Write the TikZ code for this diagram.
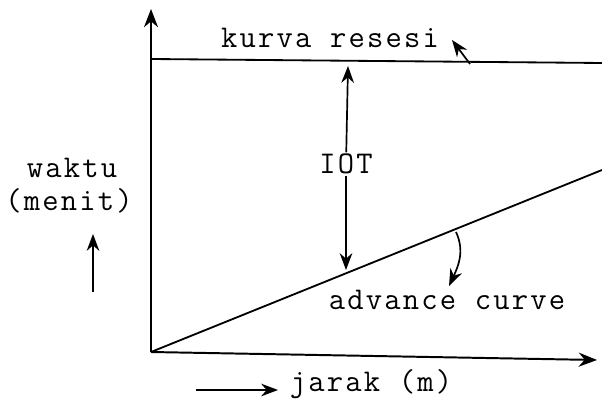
\documentclass[tikz,border=0pt]{standalone}
\usepackage{fontspec}
\setmonofont{Latin Modern Mono}[LetterSpace=7]
\usetikzlibrary{arrows.meta,positioning}

\begin{document}
\begin{tikzpicture}[x=0.025cm,y=-0.025cm,
  axis/.style={-{Stealth[length=13pt,width=10pt]},line width=1.4pt},
  curveline/.style={line width=1.3pt},
  arr/.style={-{Stealth[length=12pt,width=9pt]},line width=1.2pt},
  txt/.style={font=\fontsize{22.5}{26}\selectfont\ttfamily,inner sep=1pt,align=center}
]
  \useasboundingbox (0,0) rectangle (602,405);

  % axes
  \coordinate (O)    at (151,352);
  \coordinate (ytip) at (151,9);
  \coordinate (xtip) at (597,360);
  \draw[axis] (O) -- (ytip);
  \draw[axis] (O) -- (xtip);

  % recession curve and advance curve
  \coordinate (resL) at (151,59);
  \coordinate (resR) at (602,63);
  \coordinate (advR) at (602,170);
  \draw[curveline] (resL) -- (resR);
  \draw[curveline] (O) -- (advR);

  % labels
  \node[txt] (resesi)  at (330,38)  {kurva resesi};
  \node[txt] (advance) at (447,300) {advance curve};
  \node[txt] (iot)     at (346,164) {IOT};
  \node[txt] (waktu)   at (72,168)  {waktu};
  \node[txt] (menit)   at (69,201)  {(menit)};
  \node[txt] (jarak)   at (371,384) {jarak (m)};

  % IOT arrows
  \coordinate (iottop) at (348,66);
  \coordinate (iotbot) at (346,270);
  \draw[arr] (iot) -- (iottop);
  \draw[arr] (iot) -- (iotbot);

  % pointers to the curves
  \coordinate (resfoot) at (470,64);
  \coordinate (reshead) at (452,40);
  \draw[arr] (resfoot) -- (reshead);
  \coordinate (advfoot) at (456,232);
  \coordinate (advhead) at (449,286);
  \draw[arr] (advfoot) to[out=-65,in=65] (advhead);

  % direction arrows
  \coordinate (upbot) at (93,292);
  \coordinate (uptop) at (93,234);
  \draw[arr] (upbot) -- (uptop);
  \coordinate (rtL) at (196,390);
  \coordinate (rtR) at (278,390);
  \draw[arr] (rtL) -- (rtR);
\end{tikzpicture}
\end{document}
